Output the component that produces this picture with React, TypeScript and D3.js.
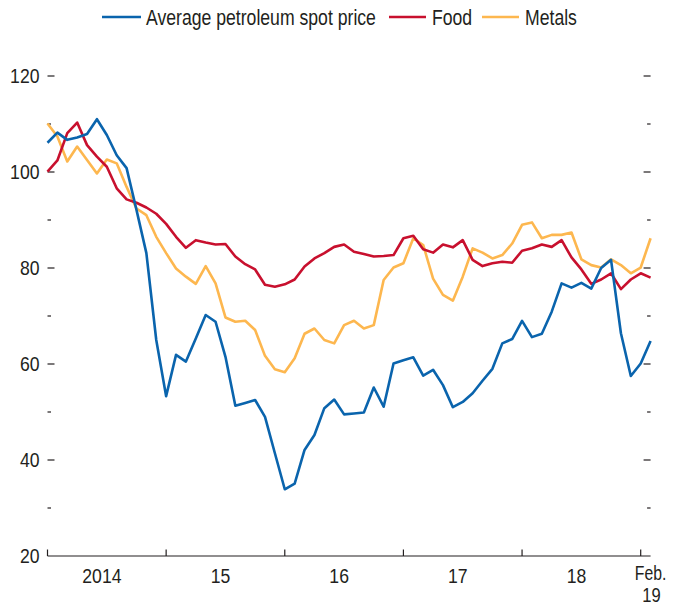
import React from "react";
import * as d3 from "d3";

const petroleum = [
  106.1, 108.2, 106.7, 107.2, 107.9, 111.0, 107.7, 103.5, 100.8, 92.1, 83.1, 65.0,
  53.3, 61.9, 60.5, 65.3, 70.2, 68.8, 61.5, 51.3, 51.9, 52.5, 49.0, 41.4,
  33.9, 35.1, 42.1, 45.2, 50.8, 52.6, 49.5, 49.7, 49.9, 55.1, 51.1, 60.1,
  60.8, 61.4, 57.6, 58.8, 55.6, 51.0, 52.1, 53.9, 56.5, 59.0, 64.3, 65.2,
  69.0, 65.6, 66.3, 70.9, 76.8, 75.9, 76.9, 75.7, 80.0, 81.7, 66.4, 57.5,
  60.1, 64.8,
];
const food = [
  100.1, 102.4, 108.1, 110.3, 105.6, 103.2, 101.1, 96.6, 94.3, 93.6, 92.6, 91.3,
  89.2, 86.5, 84.2, 85.8, 85.3, 84.9, 85.0, 82.4, 80.8, 79.7, 76.5, 76.1,
  76.6, 77.6, 80.3, 82.0, 83.1, 84.4, 84.9, 83.4, 82.9, 82.4, 82.5, 82.7,
  86.2, 86.7, 83.9, 83.2, 84.9, 84.3, 85.8, 81.7, 80.4, 81.0, 81.3, 81.1,
  83.6, 84.1, 84.9, 84.4, 85.8, 82.2, 79.7, 76.7, 77.6, 78.9, 75.6, 77.6,
  78.9, 78.0,
];
const metals = [
  110.1, 107.4, 102.2, 105.3, 102.5, 99.7, 102.6, 101.8, 96.9, 92.4, 91.0, 86.5,
  83.1, 79.9, 78.2, 76.7, 80.4, 76.8, 69.7, 68.8, 69.0, 67.1, 61.7, 58.9,
  58.3, 61.2, 66.3, 67.4, 65.0, 64.3, 68.1, 69.0, 67.4, 68.1, 77.5, 80.1,
  81.0, 86.2, 84.8, 77.8, 74.4, 73.2, 78.2, 84.1, 83.2, 82.0, 82.7, 85.1,
  89.0, 89.5, 86.2, 86.9, 86.9, 87.4, 81.8, 80.6, 80.1, 81.8, 80.6, 78.9,
  80.1, 86.2,
];

const yMajorTicks = [20, 40, 60, 80, 100, 120];
const yMinorTicks = [30, 50, 70, 90, 110];
const yearTickMonths = [0, 12, 24, 36, 48, 60];
const yearLabels = ["2014", "15", "16", "17", "18"];
const yearLabelMonths = [5.5, 17.5, 29.5, 41.5, 53.5];
const lastLabel = ["Feb.", "19"];

const seriesNames = ["Average petroleum spot price", "Food", "Metals"];
const seriesColors = ["#0a64ad", "#c8102e", "#fdb74f"];

const W = 678;
const H = 606;
const FONT = "'Liberation Sans', Arial, sans-serif";
const TEXT = "#231f20";

type TProps = {
  x: number;
  y: number;
  size: number;
  sx?: number;
  anchor?: "start" | "middle" | "end";
  children: React.ReactNode;
};

function NText({ x, y, size, sx = 0.82, anchor = "start", children }: TProps) {
  return (
    <text
      transform={`translate(${x},${y}) scale(${sx},1)`}
      fontSize={size}
      textAnchor={anchor}
      fill={TEXT}
      fontFamily={FONT}
    >
      {children}
    </text>
  );
}

export default function App() {
  const x = d3.scaleLinear().domain([0, 60]).range([47.5, 640.7]);
  const y = d3.scaleLinear().domain([20, 120]).range([556, 76]);
  const xEnd = x(61);
  const line = d3
    .line<number>()
    .x((_, i) => x(i))
    .y((d) => y(d));

  const series = [metals, food, petroleum];
  const colorsInOrder = [seriesColors[2], seriesColors[1], seriesColors[0]];

  const legendItems = [
    { x0: 102, x1: 141, tx: 146 },
    { x0: 389, x1: 426, tx: 432 },
    { x0: 482, x1: 519, tx: 525 },
  ];

  return (
    <svg
      width={W}
      height={H}
      style={{ position: "absolute", left: 0, top: 0, background: "#fff" }}
    >
      {/* legend */}
      {legendItems.map((l, i) => (
        <g key={seriesNames[i]}>
          <line x1={l.x0} x2={l.x1} y1={17} y2={17} stroke={seriesColors[i]} strokeWidth={2.6} />
          <NText x={l.tx} y={24.5} size={21.5}>
            {seriesNames[i]}
          </NText>
        </g>
      ))}

      {/* y ticks left & right */}
      {yMajorTicks.map((t) => (
        <g key={"M" + t}>
          {t !== 20 && (
            <>
              <line x1={x(0)} x2={x(0) + 7} y1={y(t)} y2={y(t)} stroke={TEXT} strokeWidth={1.2} />
              <line x1={xEnd - 7} x2={xEnd} y1={y(t)} y2={y(t)} stroke={TEXT} strokeWidth={1.2} />
            </>
          )}
          <NText x={39.5} y={y(t) + 7.3} size={20.5} sx={0.86} anchor="end">
            {t}
          </NText>
        </g>
      ))}
      {yMinorTicks.map((t) => (
        <g key={"m" + t}>
          <line x1={x(0)} x2={x(0) + 3.5} y1={y(t)} y2={y(t)} stroke={TEXT} strokeWidth={1.2} />
          <line x1={xEnd - 3.5} x2={xEnd} y1={y(t)} y2={y(t)} stroke={TEXT} strokeWidth={1.2} />
        </g>
      ))}

      {/* x axis */}
      <line x1={x(0)} x2={xEnd} y1={y(20)} y2={y(20)} stroke={TEXT} strokeWidth={1.2} />
      {yearTickMonths.map((m) => (
        <line key={"xt" + m} x1={x(m)} x2={x(m)} y1={y(20)} y2={y(20) - 6.5} stroke={TEXT} strokeWidth={1.2} />
      ))}
      {yearLabels.map((lab, i) => (
        <NText key={lab} x={x(yearLabelMonths[i])} y={583} size={20.5} sx={0.86} anchor="middle">
          {lab}
        </NText>
      ))}
      <NText x={xEnd} y={580} size={19.3} anchor="middle">
        {lastLabel[0]}
      </NText>
      <NText x={xEnd + 1} y={601.6} size={19.3} sx={0.86} anchor="middle">
        {lastLabel[1]}
      </NText>

      {/* lines */}
      {series.map((s, i) => (
        <path
          key={i}
          d={line(s) || ""}
          fill="none"
          stroke={colorsInOrder[i]}
          strokeWidth={2.6}
          strokeLinejoin="round"
          strokeLinecap="butt"
        />
      ))}
    </svg>
  );
}
